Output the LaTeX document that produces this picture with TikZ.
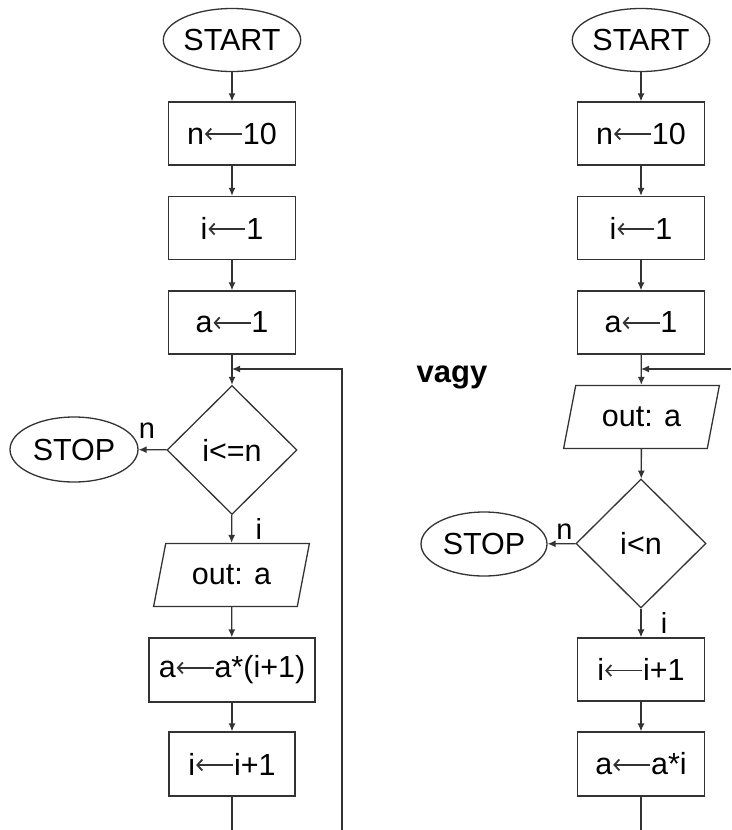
\documentclass[tikz,border=0pt]{standalone}
\usepackage{fontspec}
\setmainfont{Liberation Sans}
\usepackage{tikz}
\usetikzlibrary{shapes.geometric}
\usetikzlibrary{arrows.meta}

% long left arrow used in the assignments
\newcommand{\balra}{\tikz[baseline=0pt]\draw[line width=1.8pt, black!80,
  {Straight Barb[length=5pt,width=11pt]}-] (0pt,10pt) -- (37pt,10pt);}

\tikzset{
  lap/.style={draw=black!80, line width=1.3pt, inner sep=0pt, font=\fontsize{30.5}{36}\selectfont},
  hatar/.style={lap, ellipse, minimum width=129pt, minimum height=63pt},
  muvelet/.style={lap, rectangle, minimum width=127pt, minimum height=63pt},
  dontes/.style={lap, diamond, minimum width=130pt, minimum height=129pt},
  kiir/.style={lap, trapezium, trapezium left angle=70, trapezium right angle=110,
    trapezium stretches=true, minimum width=157pt, minimum height=63pt},
  felirat/.style={font=\fontsize{29}{34}\selectfont},
  vonal/.style={draw=black!80, line width=1.3pt}
}

\begin{document}
\begin{tikzpicture}[x=1pt, y=-1pt, >={Latex[length=8pt,width=7pt]}]
\useasboundingbox (0,0) rectangle (731,830);

% first version: test before output
\node[hatar] (start1) at (232,40) {START};
\node[muvelet] (n1) at (232,133.5) {n\balra10};
\node[muvelet] (i1) at (232,228) {i\balra1};
\node[muvelet] (a1) at (232,322.5) {a\balra1};
\node[dontes] (d1) at (232,450) {i<=n};
\node[hatar, minimum width=128pt, minimum height=65pt] (stop1) at (74,449.5) {STOP};
\node[kiir] (o1) at (231.5,575) {out: a};
\node[muvelet, minimum width=166pt, minimum height=64pt] (m1) at (232,670) {a\balra a*(i+1)};
\node[muvelet, minimum width=126pt, minimum height=64pt] (inc1) at (232,764) {i\balra i+1};

\coordinate (join1) at (232,369);
\coordinate (end1) at (232,830);
\coordinate (back1) at (342,830);

\draw[vonal, ->] (start1) -- (n1);
\draw[vonal, ->] (n1) -- (i1);
\draw[vonal, ->] (i1) -- (a1);
\draw[vonal, ->] (a1) -- (d1);
\draw[vonal, ->] (d1) -- (stop1) node[felirat, pos=0.7, above=7pt] {n};
\draw[vonal, ->] (d1) -- (o1) node[felirat, midway, right=20pt] {i};
\draw[vonal, ->] (o1) -- (m1);
\draw[vonal, ->] (m1) -- (inc1);
\draw[vonal] (inc1) -- (end1);
\draw[vonal, ->] (back1) |- (join1);

\node[font=\fontsize{31}{36}\selectfont\bfseries] (vagy) at (452,377) {vagy};

% second version: output before test
\node[hatar] (start2) at (641,40) {START};
\node[muvelet] (n2) at (641,133.5) {n\balra10};
\node[muvelet] (i2) at (641,228) {i\balra1};
\node[muvelet] (a2) at (641,322.5) {a\balra1};
\node[kiir] (o2) at (641.5,417) {out: a};
\node[dontes] (d2) at (641,543.5) {i<n};
\node[hatar, minimum width=126pt, minimum height=64pt] (stop2) at (484,544) {STOP};
\node[muvelet] (inc2) at (641,669.5) {i\balra i+1};
\node[muvelet, minimum height=64pt] (m2) at (641,764) {a\balra a*i};

\coordinate (join2) at (641,369);
\coordinate (end2) at (641,830);
\coordinate (back2) at (731,369);

\draw[vonal, ->] (start2) -- (n2);
\draw[vonal, ->] (n2) -- (i2);
\draw[vonal, ->] (i2) -- (a2);
\draw[vonal, ->] (a2) -- (o2);
\draw[vonal, ->] (o2) -- (d2);
\draw[vonal, ->] (d2) -- (stop2) node[felirat, pos=0.4, above=0pt] {n};
\draw[vonal, ->] (d2) -- (inc2) node[felirat, midway, right=16pt] {i};
\draw[vonal, ->] (inc2) -- (m2);
\draw[vonal] (m2) -- (end2);
\draw[vonal, ->] (back2) -- (join2);

\end{tikzpicture}
\end{document}
